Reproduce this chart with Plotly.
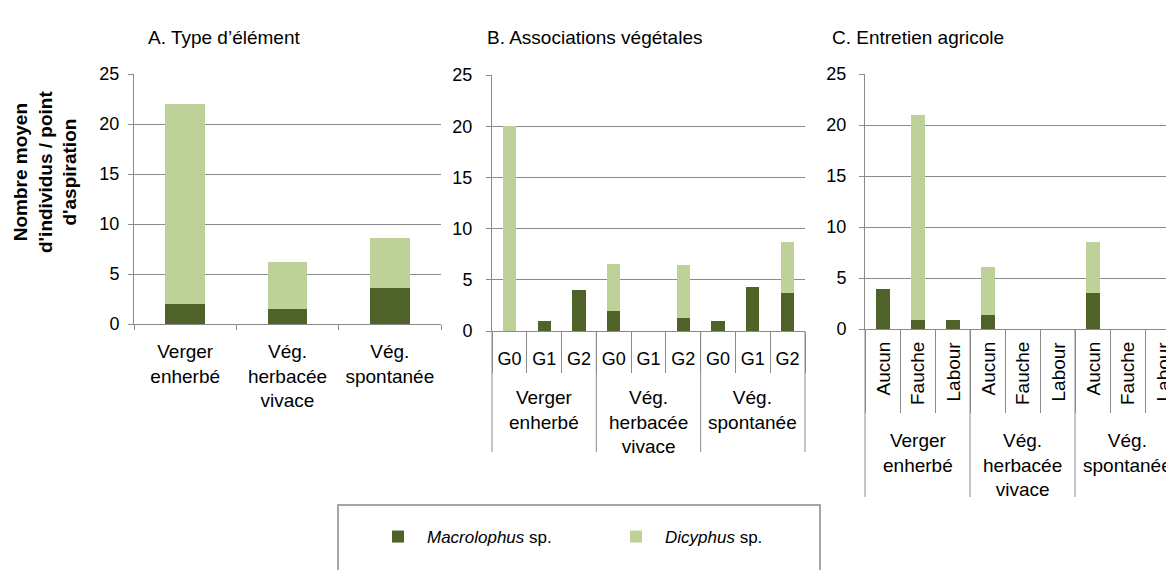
import plotly.graph_objects as go

W, H = 1174, 570
OFF = 8  # the page body adds an 8 px margin around the figure
FONT = "Liberation Sans, Arial, sans-serif"
DARK = "#4F6228"
LIGHT = "#BDD199"
GRID = "#8A8A8A"

# ---------------- data ----------------
groups = ["Verger<br>enherbé", "Vég.<br>herbacée<br>vivace", "Vég.<br>spontanée"]

# Panel A
macro_a = [2.0, 1.5, 3.6]
dicy_a = [20.0, 4.7, 5.0]

# Panel B
sub_b = ["G0", "G1", "G2"]
macro_b = [0.0, 1.0, 4.0, 2.0, 0.0, 1.25, 1.0, 4.3, 3.7]
dicy_b = [20.0, 0.0, 0.0, 4.5, 0.0, 5.15, 0.0, 0.0, 5.0]

# Panel C
sub_c = ["Aucun", "Fauche", "Labour"]
macro_c = [3.9, 0.9, 0.9, 1.4, 0.0, 0.0, 3.55, 0.0, 0.0]
dicy_c = [0.0, 20.1, 0.0, 4.7, 0.0, 0.0, 4.95, 0.0, 0.0]

titles = ["A. Type d’élément", "B. Associations végétales", "C. Entretien agricole"]
series_names = ["<i>Macrolophus</i> sp.", "<i>Dicyphus</i> sp."]
ytitle = "<b>Nombre moyen<br>d'individus / point<br>d'aspiration</b>"

# ---------------- helpers (page pixel -> paper fraction) ----------------
def px_x(p):
    return (p - OFF) / W

def px_y(p):
    return (H - (p - OFF)) / H

fig = go.Figure()

idx_a = list(range(len(groups)))
idx_b = list(range(len(sub_b) * len(groups)))
idx_c = list(range(len(sub_c) * len(groups)))

panels = [
    ("x", "y", idx_a, macro_a, dicy_a, 0.39, True),
    ("x2", "y2", idx_b, macro_b, dicy_b, 0.38, False),
    ("x3", "y3", idx_c, macro_c, dicy_c, 0.40, False),
]
for xa, ya, idx, mac, dic, w, show in panels:
    fig.add_trace(go.Bar(x=idx, y=mac, xaxis=xa, yaxis=ya, width=w,
                         marker=dict(color=DARK, line=dict(width=0)),
                         name=series_names[0], legendgroup="m", showlegend=show))
    fig.add_trace(go.Bar(x=idx, y=dic, xaxis=xa, yaxis=ya, width=w,
                         marker=dict(color=LIGHT, line=dict(width=0)),
                         name=series_names[1], legendgroup="d", showlegend=show))

tickfont = dict(family=FONT, size=18, color="#000000")
labfont = dict(family=FONT, size=19, color="#000000")
gfont = dict(family=FONT, size=18, color="#000000")

def yax(top, bottom, xanchor, standoff):
    return dict(domain=[px_y(bottom), px_y(top)], range=[0, 25], dtick=5,
                showgrid=True, gridcolor=GRID, gridwidth=1, zeroline=False,
                showline=True, linecolor=GRID, linewidth=1,
                ticks="outside", ticklen=5, tickcolor=GRID,
                tickfont=tickfont, ticklabelstandoff=standoff, anchor=xanchor,
                automargin=False, fixedrange=True)

nb = len(idx_b)
nc = len(idx_c)
c_left, c_cat = 865, 35.0
c_range_right = -0.5 + (W + OFF - c_left) / c_cat

layout = dict(
    template="none",
    width=W, height=H, margin=dict(l=0, r=0, t=0, b=0, autoexpand=False),
    paper_bgcolor="white", plot_bgcolor="white",
    barmode="stack", font=dict(family=FONT, size=16, color="#000"),
    showlegend=True,
    xaxis=dict(domain=[px_x(134), px_x(441)], range=[-0.5, len(groups) - 0.5],
               tickmode="array", tickvals=idx_a, ticktext=groups,
               showline=True, linecolor=GRID, linewidth=1, showgrid=False,
               zeroline=False, ticks="", tickfont=labfont, ticklabelstandoff=10,
               minor=dict(tickmode="array", tickvals=[i - 0.5 for i in range(len(groups) + 1)],
                          ticks="outside", ticklen=5, tickcolor=GRID, showgrid=False),
               anchor="y", automargin=False, fixedrange=True),
    yaxis=yax(74, 324, "x", 5),
    xaxis2=dict(domain=[px_x(492), px_x(805)], range=[-0.5, nb - 0.5],
                tickmode="array", tickvals=idx_b, ticktext=sub_b * len(groups),
                showline=True, linecolor=GRID, linewidth=1, showgrid=False,
                zeroline=False, ticks="", tickfont=gfont, ticklabelstandoff=11,
                minor=dict(tickmode="array", tickvals=[i - 0.5 for i in range(nb + 1)],
                           ticks="outside", ticklen=41, tickcolor=GRID, showgrid=False),
                anchor="y2", automargin=False, fixedrange=True),
    yaxis2=yax(75, 331, "x2", 10),
    xaxis3=dict(domain=[px_x(c_left), 1.0], range=[-0.5, c_range_right],
                tickmode="array", tickvals=idx_c, showticklabels=False,
                showline=True, linecolor=GRID, linewidth=1, showgrid=False,
                zeroline=False, ticks="",
                minor=dict(tickmode="array", tickvals=[i - 0.5 for i in range(nc + 1)],
                           ticks="outside", ticklen=83, tickcolor=GRID, showgrid=False),
                anchor="y3", automargin=False, fixedrange=True),
    yaxis3=yax(74, 329, "x3", 9),
    legend=dict(orientation="h", x=px_x(369), y=px_y(537), xanchor="left", yanchor="middle",
                bgcolor="rgba(0,0,0,0)", borderwidth=0, itemwidth=48,
                entrywidth=175, entrywidthmode="pixels",
                font=dict(family=FONT, size=17, color="#000"), traceorder="normal"),
)
fig.update_layout(**layout)

shapes = []
annotations = []

# group separators for B (domain coordinates)
for g in range(len(groups) + 1):
    shapes.append(dict(type="line", xref="x2 domain", yref="paper",
                       x0=g / len(groups), x1=g / len(groups),
                       y0=px_y(331), y1=px_y(452), line=dict(color=GRID, width=1)))
# group separators for C
c_span = c_range_right + 0.5
for g in range(len(groups)):
    pos = (g * len(sub_c)) / c_span
    shapes.append(dict(type="line", xref="x3 domain", yref="paper",
                       x0=pos, x1=pos, y0=px_y(329), y1=px_y(497),
                       line=dict(color=GRID, width=1)))

# legend box
shapes.append(dict(type="rect", xref="paper", yref="paper",
                   x0=px_x(338), x1=px_x(820), y0=px_y(600), y1=px_y(505),
                   line=dict(color="#A6A6A6", width=2), fillcolor="rgba(0,0,0,0)"))

# rotated sub-category labels of panel C (hanging from the axis)
for i, lab in zip(idx_c, sub_c * len(groups)):
    annotations.append(dict(text=lab, xref="x3", yref="paper", x=i, y=px_y(341),
                            xanchor="center", yanchor="top", textangle=-90,
                            showarrow=False, font=labfont, borderpad=0))

# group labels
for g, name in enumerate(groups):
    annotations.append(dict(text=name, xref="x2", yref="paper",
                            x=g * len(sub_b) + (len(sub_b) - 1) / 2, y=px_y(385),
                            xanchor="center", yanchor="top", showarrow=False,
                            font=labfont))
    annotations.append(dict(text=name, xref="x3", yref="paper",
                            x=g * len(sub_c) + (len(sub_c) - 1) / 2, y=px_y(428),
                            xanchor="center", yanchor="top", showarrow=False,
                            font=labfont))

# panel titles
for t, xp in zip(titles, [146, 485, 830]):
    annotations.append(dict(text=t, xref="paper", yref="paper", x=px_x(xp), y=px_y(37),
                            xanchor="left", yanchor="middle", showarrow=False,
                            font=dict(family=FONT, size=19, color="#000")))

# y-axis title
annotations.append(dict(text=ytitle, xref="paper", yref="paper", x=px_x(45), y=px_y(172),
                        xanchor="center", yanchor="middle", textangle=-90, showarrow=False,
                        font=dict(family=FONT, size=19, color="#000")))

fig.update_layout(shapes=shapes, annotations=annotations)
fig.write_html("out.html")
